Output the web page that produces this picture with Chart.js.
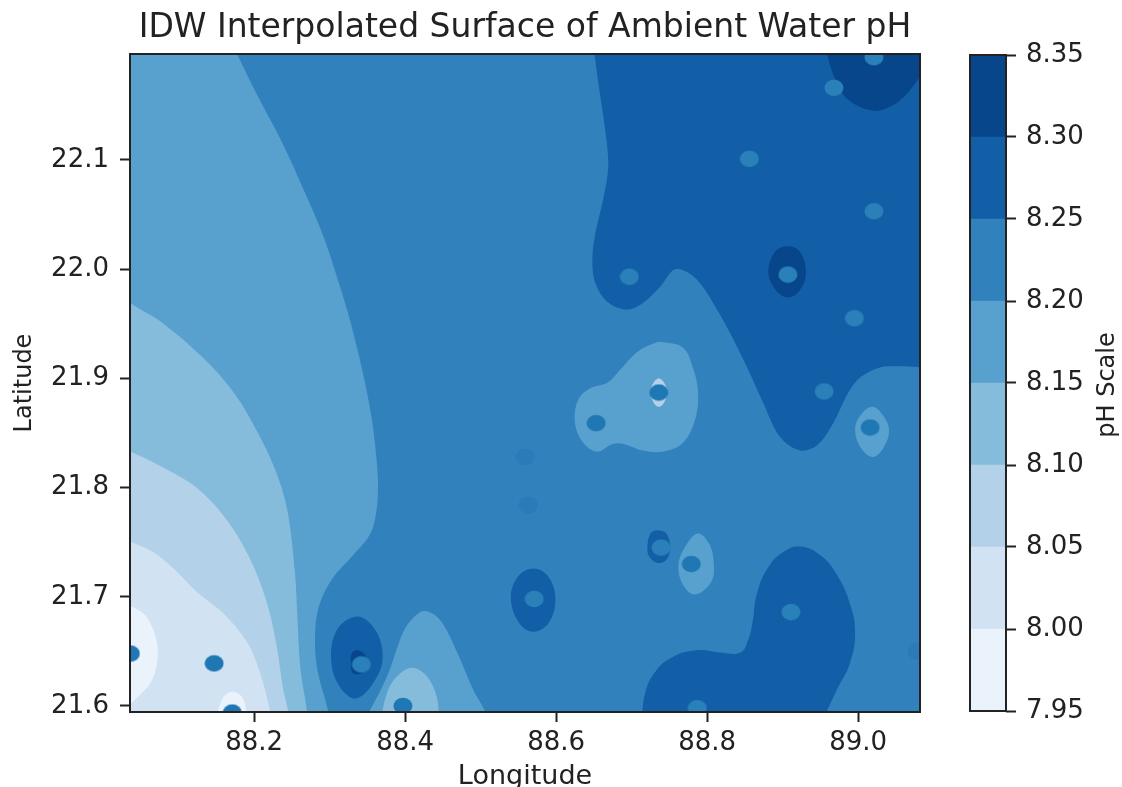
<!DOCTYPE html>
<html>
<head>
<meta charset="utf-8">
<title>IDW Interpolated Surface of Ambient Water pH</title>
<script src="https://cdn.jsdelivr.net/npm/chart.js@4/dist/chart.umd.min.js"></script>
<style>
  html, body { margin: 0; padding: 0; background: #fff; overflow: hidden; }
  #surface, #scale { position: absolute; top: 0; }
  #surface { left: 0; }
  #scale { left: 930px; }
</style>
</head>
<body>
<canvas id="surface" width="1122" height="787"></canvas>
<canvas id="scale" width="192" height="787"></canvas>
<script>
const lonTicks = [88.2, 88.4, 88.6, 88.8, 89.0];
const latTicks = [21.6, 21.7, 21.8, 21.9, 22.0, 22.1];
const phLevels = [7.95, 8.00, 8.05, 8.10, 8.15, 8.20, 8.25, 8.30, 8.35];
const bandColors = ['#eaf3fb', '#d1e2f3', '#b3d2e9', '#85bcdc', '#58a1cf', '#3181bd', '#135fa7', '#08468b'];

// contour outlines, [lon, lat]
const west815 = [[88.175,22.200],[88.205,22.158],[88.237,22.116],[88.264,22.075],[88.290,22.033],[88.311,21.990],[88.327,21.953],[88.344,21.905],[88.356,21.862],[88.363,21.819],[88.364,21.801],[88.362,21.779],[88.354,21.758],[88.331,21.738],[88.305,21.718],[88.287,21.694],[88.281,21.670],[88.283,21.636],[88.298,21.595],[88.300,21.580],[88.020,21.580],[88.020,22.210],[88.170,22.210]];
const west810 = [[88.025,21.977],[88.036,21.969],[88.078,21.951],[88.135,21.917],[88.175,21.885],[88.205,21.850],[88.228,21.816],[88.244,21.779],[88.254,21.722],[88.257,21.685],[88.261,21.636],[88.270,21.595],[88.272,21.580],[88.020,21.580]];
const west805 = [[88.025,21.836],[88.036,21.833],[88.069,21.822],[88.109,21.807],[88.132,21.795],[88.164,21.770],[88.195,21.734],[88.217,21.694],[88.230,21.654],[88.238,21.617],[88.245,21.595],[88.247,21.580],[88.020,21.580]];
const west800 = [[88.028,21.753],[88.038,21.750],[88.066,21.741],[88.093,21.726],[88.125,21.704],[88.159,21.685],[88.191,21.658],[88.208,21.630],[88.221,21.595],[88.223,21.580],[88.020,21.580]];
const west795 = [[88.028,21.692],[88.038,21.691],[88.058,21.681],[88.072,21.654],[88.065,21.624],[88.038,21.603],[88.028,21.598]];
const south795 = [[88.148,21.585],[88.159,21.608],[88.172,21.613],[88.185,21.607],[88.192,21.585]];
const bump815 = [[88.345,21.585],[88.376,21.627],[88.397,21.667],[88.411,21.681],[88.426,21.687],[88.446,21.679],[88.469,21.649],[88.490,21.615],[88.506,21.595],[88.510,21.585]];
const bump810 = [[88.367,21.585],[88.376,21.612],[88.389,21.627],[88.409,21.635],[88.429,21.627],[88.442,21.608],[88.445,21.585]];
const pool825a = [[88.336,21.682],[88.358,21.672],[88.370,21.649],[88.363,21.627],[88.336,21.607],[88.314,21.617],[88.302,21.642],[88.310,21.670]];
const pool830a = [[88.338,21.651],[88.348,21.645],[88.344,21.631],[88.331,21.630],[88.328,21.642],[88.330,21.649]];
const pool825b = [[88.570,21.726],[88.589,21.719],[88.599,21.699],[88.591,21.677],[88.570,21.668],[88.551,21.676],[88.540,21.699],[88.550,21.719]];
const pool825c = [[88.734,21.761],[88.746,21.758],[88.751,21.745],[88.746,21.734],[88.734,21.731],[88.723,21.737],[88.721,21.747],[88.725,21.758]];
const isle815a = [[88.788,21.758],[88.803,21.748],[88.809,21.729],[88.805,21.713],[88.784,21.702],[88.768,21.711],[88.762,21.729],[88.772,21.747]];
const south825 = [[88.713,21.585],[88.718,21.612],[88.731,21.631],[88.755,21.645],[88.787,21.651],[88.817,21.649],[88.844,21.649],[88.854,21.660],[88.860,21.676],[88.866,21.703],[88.881,21.727],[88.901,21.741],[88.923,21.746],[88.950,21.738],[88.972,21.720],[88.989,21.694],[88.996,21.667],[88.989,21.639],[88.972,21.615],[88.952,21.585]];
const north825 = [[88.650,22.201],[88.656,22.170],[88.665,22.127],[88.669,22.094],[88.662,22.063],[88.652,22.033],[88.648,22.008],[88.652,21.987],[88.668,21.970],[88.694,21.963],[88.715,21.969],[88.738,21.984],[88.755,21.999],[88.768,21.999],[88.787,21.990],[88.808,21.969],[88.830,21.942],[88.853,21.910],[88.874,21.878],[88.897,21.846],[88.923,21.834],[88.946,21.839],[88.967,21.859],[88.987,21.887],[89.003,21.901],[89.029,21.910],[89.052,21.911],[89.089,21.910],[89.100,21.910],[89.100,22.210],[88.650,22.210]];
const isle815b = [[89.019,21.874],[89.034,21.865],[89.041,21.852],[89.034,21.837],[89.020,21.828],[89.004,21.836],[88.996,21.853],[89.003,21.866]];
const isle815c = [[88.742,21.933],[88.768,21.928],[88.781,21.910],[88.788,21.887],[88.784,21.862],[88.768,21.841],[88.742,21.833],[88.715,21.834],[88.689,21.840],[88.675,21.840],[88.654,21.833],[88.636,21.841],[88.625,21.859],[88.629,21.880],[88.645,21.891],[88.668,21.896],[88.685,21.908],[88.707,21.924],[88.729,21.932]];
const halo805 = [[88.736,21.900],[88.743,21.896],[88.747,21.888],[88.743,21.878],[88.736,21.874],[88.729,21.878],[88.725,21.888],[88.729,21.896]];
const pool830b = [[88.907,22.021],[88.923,22.016],[88.931,21.997],[88.923,21.981],[88.907,21.974],[88.891,21.981],[88.881,21.997],[88.890,22.016]];
const north830 = [[88.956,22.203],[88.970,22.173],[88.987,22.155],[89.020,22.145],[89.046,22.150],[89.069,22.164],[89.089,22.187],[89.089,22.203]];

// sampling stations, [lon, lat]
const stationsDeep = [[88.036,21.648],[88.147,21.639],[88.171,21.594],[88.397,21.600],[88.736,21.887],[88.653,21.859],[89.016,21.855],[88.779,21.730]];
const stationsMid = [[88.563,21.784],[88.559,21.828],[89.078,21.650]];
const stationsLight = [[88.342,21.638],[88.571,21.698],[88.739,21.745],[88.911,21.686],[88.787,21.598],[89.021,22.194],[88.968,22.166],[88.856,22.101],[89.021,22.053],[88.907,21.995],[88.697,21.993],[88.995,21.955],[88.955,21.888]];

const FONT = "'DejaVu Sans', sans-serif";
const TEXT = '#222';
const LON_MIN = 88.0355, LON_MAX = 89.082, LAT_MIN = 21.5945, LAT_MAX = 22.197;

Chart.defaults.font.family = FONT;
Chart.defaults.color = TEXT;

const toXY = (pts) => pts.map((p) => ({ x: p[0], y: p[1] }));

function band(pts, colorIdx, tension = 0.35) {
  return {
    data: toXY(pts),
    showLine: true,
    fill: 'shape',
    tension: tension,
    backgroundColor: bandColors[colorIdx],
    borderWidth: 0,
    borderColor: 'transparent',
    pointRadius: 0,
  };
}

// closed ovals: run past the start so the spline has no kink where it closes
const oval = (pts, colorIdx) => band([...pts, pts[0], pts[1], pts[2]], colorIdx, 0.38);

// stations look slightly wider than tall in the original
function ellipseDot(color) {
  const c = document.createElement('canvas');
  c.width = 20;
  c.height = 18;
  const g = c.getContext('2d');
  g.fillStyle = color;
  g.beginPath();
  g.ellipse(10, 9, 9.5, 8.3, 0, 0, Math.PI * 2);
  g.fill();
  return c;
}

function stations(pts, color) {
  return {
    data: toXY(pts),
    showLine: false,
    pointStyle: ellipseDot(color),
    pointRadius: 10,
    backgroundColor: color,
    borderColor: color,
  };
}

const frame = {
  id: 'frame',
  afterDatasetsDraw(chart) {
    const { ctx, chartArea: a } = chart;
    ctx.save();
    ctx.strokeStyle = TEXT;
    ctx.lineWidth = 2;
    ctx.strokeRect(a.left, a.top, a.right - a.left, a.bottom - a.top);
    ctx.restore();
  },
};

// bottom layer first
const layers = [
  band([[88.0, 21.58], [89.1, 21.58], [89.1, 22.21], [88.0, 22.21]], 5, 0),
  band(west815, 4),
  band(west810, 3),
  band(west805, 2),
  band(west800, 1),
  band(west795, 0),
  band(south795, 0),
  band(bump815, 4),
  band(bump810, 3),
  oval(pool825a, 6),
  oval(pool830a, 7),
  oval(pool825b, 6),
  oval(pool825c, 6),
  oval(isle815a, 4),
  band(south825, 6, 0.45),
  band(north825, 6),
  oval(isle815b, 4),
  oval(isle815c, 4),
  oval(halo805, 2),
  oval(pool830b, 7),
  band(north830, 7),
  stations(stationsDeep, '#1f77b4'),
  stations(stationsMid, '#2a7bb8'),
  stations(stationsLight, '#2a81b9'),
];

new Chart(document.getElementById('surface'), {
  type: 'scatter',
  data: { datasets: layers.reverse() },  // chart.js paints the last dataset first
  plugins: [frame],
  options: {
    responsive: false,
    animation: false,
    events: [],
    layout: { padding: { right: 202, top: 0, bottom: 0, left: 0 } },
    plugins: {
      legend: { display: false },
      tooltip: { enabled: false },
      title: {
        display: true,
        fullSize: false,
        text: 'IDW Interpolated Surface of Ambient Water pH',
        color: TEXT,
        font: { size: 33, weight: 'normal', family: FONT, lineHeight: 1.2 },
        padding: { top: 9, bottom: 5.4 },
      },
    },
    scales: {
      x: {
        type: 'linear',
        min: LON_MIN,
        max: LON_MAX,
        afterBuildTicks: (s) => { s.ticks = lonTicks.map((v) => ({ value: v })); },
        afterFit: (s) => { s.height = 75; },
        border: { display: false },
        grid: { drawOnChartArea: false, tickLength: 10, tickWidth: 2, tickColor: TEXT },
        ticks: { color: TEXT, font: { size: 26 }, padding: 6, maxRotation: 0, autoSkip: false, callback: (v) => v.toFixed(1) },
        title: { display: true, text: 'Longitude', color: TEXT, font: { size: 27 }, padding: { top: 0, bottom: -6 } },
      },
      y: {
        type: 'linear',
        min: LAT_MIN,
        max: LAT_MAX,
        afterBuildTicks: (s) => { s.ticks = latTicks.map((v) => ({ value: v })); },
        afterFit: (s) => { s.width = 130; },
        border: { display: false },
        grid: { drawOnChartArea: false, tickLength: 10, tickWidth: 2, tickColor: TEXT },
        ticks: { color: TEXT, font: { size: 26 }, padding: 11, autoSkip: false, callback: (v) => v.toFixed(1) },
        title: { display: true, text: 'Latitude', color: TEXT, font: { size: 24 }, padding: { top: 10, bottom: 0 } },
      },
    },
  },
});

// matplotlib's colorbar label reads bottom to top, chart.js would flip it on a right axis
const scaleLabel = {
  id: 'scaleLabel',
  afterDraw(chart) {
    const { ctx, chartArea: a } = chart;
    ctx.save();
    ctx.translate(178, (a.top + a.bottom) / 2 + 2);
    ctx.rotate(-Math.PI / 2);
    ctx.fillStyle = TEXT;
    ctx.font = '24px ' + FONT;
    ctx.textAlign = 'center';
    ctx.textBaseline = 'middle';
    ctx.fillText('pH Scale', 0, 0);
    ctx.restore();
  },
};

new Chart(document.getElementById('scale'), {
  type: 'bar',
  data: {
    labels: ['pH'],
    datasets: bandColors.map((color, i) => ({
      data: [[phLevels[i], phLevels[i + 1]]],
      backgroundColor: color,
      borderWidth: 0,
      barPercentage: 1,
      categoryPercentage: 1,
    })),
  },
  plugins: [frame, scaleLabel],
  options: {
    responsive: false,
    animation: false,
    events: [],
    layout: { padding: { left: 40, top: 55, bottom: 76, right: 0 } },
    plugins: { legend: { display: false }, tooltip: { enabled: false } },
    scales: {
      x: { display: false, stacked: true },
      y: {
        position: 'right',
        stacked: false,
        min: 7.95,
        max: 8.35,
        afterBuildTicks: (s) => { s.ticks = phLevels.map((v) => ({ value: v })); },
        afterFit: (s) => { s.width = 116; },
        border: { display: false },
        grid: { drawOnChartArea: false, tickLength: 10, tickWidth: 2, tickColor: TEXT },
        ticks: { color: TEXT, font: { size: 26 }, padding: 10, autoSkip: false, callback: (v) => v.toFixed(2) },
      },
    },
  },
});
</script>
</body>
</html>
